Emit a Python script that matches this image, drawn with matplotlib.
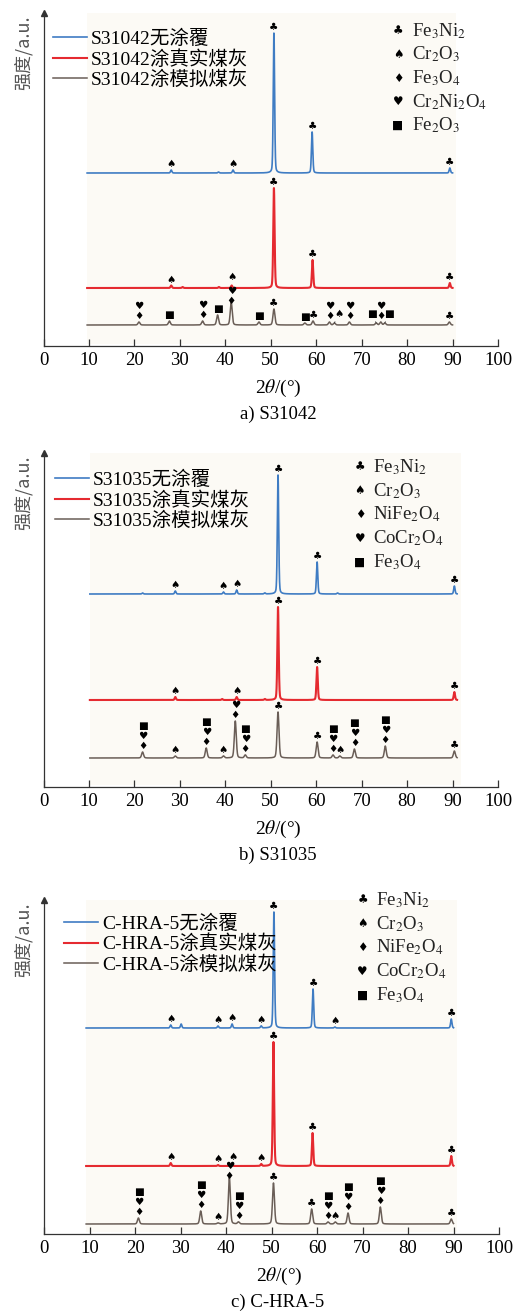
import numpy as np
import matplotlib.pyplot as plt
from matplotlib.patches import Rectangle

plt.rcParams['font.family'] = ['Liberation Serif', 'Noto Sans CJK SC']
plt.rcParams['mathtext.fontset'] = 'stix'

W, H = 521, 1315
colors = ['#3f7cc3', '#e52a30', '#6a5e57']
line_widths = [1.2, 1.5, 1.1]
peak_fwhm = [0.35, 0.35, 0.5]
x_ticks = [0, 10, 20, 30, 40, 50, 60, 70, 80, 90, 100]
symbols = ['♣', '♠', '♦', '♥', '■']

# ---------------- a) S31042 ----------------
a_caption = 'a) S31042'
a_labels = ['S31042无涂覆', 'S31042涂真实煤灰', 'S31042涂模拟煤灰']
a_phases = ['Fe$_3$Ni$_2$', 'Cr$_2$O$_3$', 'Fe$_3$O$_4$', 'Cr$_2$Ni$_2$O$_4$', 'Fe$_2$O$_3$']
a_span = (9.6, 90.0)
a_offsets = [173, 58, 21]
a_blue_pos = [28.1, 38.5, 41.7, 50.7, 59.1, 89.4]
a_blue_hgt = [3, 1, 3, 140, 41, 5]
a_red_pos = [28.1, 30.6, 38.6, 41.4, 50.7, 59.2, 89.4]
a_red_hgt = [2.5, 1, 1, 2.5, 100, 28, 5]
a_brown_pos = [21.0, 27.7, 35.0, 38.3, 41.3, 47.4, 50.7, 57.5, 59.3, 62.9, 64.0, 67.3, 73.2, 74.2, 75.1, 89.3]
a_brown_hgt = [3, 4, 4, 10, 23, 3, 16, 2, 4, 3, 2, 3, 2, 3, 2, 3]
a_blue_marks = [(28.1, '♠'), (41.7, '♠'), (50.7, '♣'), (59.1, '♣'), (89.4, '♣')]
a_red_marks = [(28.1, '♠'), (41.4, '♠', 1.5), (50.7, '♣'), (59.2, '♣'), (89.4, '♣')]
a_brown_marks = [(21.0, '♦♥'), (27.7, '■'), (35.0, '♦♥'), (38.3, '■'), (41.3, '♦♥', -3.5),
                 (47.4, '■'), (50.7, '♣'), (57.5, '■'), (59.3, '♣'), (62.9, '♦♥'),
                 (67.3, '♦♥'), (74.2, '♦♥'), (89.3, '♣')]
a_brown_leaders = [(64.0, 65.0, '♠'), (73.2, 72.2, '■'), (75.1, 76.0, '■')]

# ---------------- b) S31035 ----------------
b_caption = 'b) S31035'
b_labels = ['S31035无涂覆', 'S31035涂真实煤灰', 'S31035涂模拟煤灰']
b_phases = ['Fe$_3$Ni$_2$', 'Cr$_2$O$_3$', 'NiFe$_2$O$_4$', 'CoCr$_2$O$_4$', 'Fe$_3$O$_4$']
b_span = (10.2, 91.0)
b_offsets = [193, 87, 29]
b_blue_pos = [21.8, 29.0, 39.6, 42.5, 48.7, 51.6, 60.2, 64.7, 90.4]
b_blue_hgt = [1, 3, 2, 4, 1, 119, 32, 1, 8]
b_red_pos = [29.0, 39.3, 42.5, 48.7, 51.6, 60.2, 90.4]
b_red_hgt = [3, 1, 3, 1, 93, 33, 8]
b_brown_pos = [21.8, 29.0, 35.8, 39.6, 42.2, 44.4, 51.6, 60.2, 63.7, 65.2, 68.4, 75.2, 90.4]
b_brown_hgt = [6, 2, 10, 2, 37, 3, 46, 16, 3, 2, 9, 12, 7]
b_blue_marks = [(29.0, '♠'), (39.6, '♠'), (42.5, '♠'), (51.6, '♣'), (60.2, '♣'), (90.4, '♣')]
b_red_marks = [(29.0, '♠'), (42.5, '♠'), (51.6, '♣'), (60.2, '♣'), (90.4, '♣')]
b_brown_marks = [(21.8, '♦♥■'), (29.0, '♠'), (35.8, '♦♥■'), (39.6, '♠'), (42.2, '♦♥'),
                 (44.4, '♦♥■'), (51.6, '♣'), (60.2, '♣'), (63.6, '♦♥■'), (65.3, '♠'),
                 (68.4, '♦♥■'), (75.2, '♦♥■'), (90.4, '♣')]
b_brown_leaders = []

# ---------------- c) C-HRA-5 ----------------
c_caption = 'c) C-HRA-5'
c_labels = ['C-HRA-5无涂覆', 'C-HRA-5涂真实煤灰', 'C-HRA-5涂模拟煤灰']
c_phases = ['Fe$_3$Ni$_2$', 'Cr$_2$O$_3$', 'NiFe$_2$O$_4$', 'CoCr$_2$O$_4$', 'Fe$_3$O$_4$']
c_span = (9.2, 90.0)
c_offsets = [206, 68, 10]
c_blue_pos = [27.8, 30.1, 38.2, 41.3, 47.7, 50.5, 59.1, 63.9, 89.5]
c_blue_hgt = [3, 4, 2, 4, 2, 116, 39, 1, 9]
c_red_pos = [27.8, 38.2, 41.3, 47.7, 50.4, 59.0, 89.5]
c_red_hgt = [3, 1, 1, 2, 124, 33, 10]
c_brown_pos = [20.7, 34.4, 38.2, 40.7, 42.7, 50.4, 58.8, 62.4, 64.0, 66.8, 73.9, 89.5]
c_brown_hgt = [6, 13, 1, 47, 2, 41, 15, 2, 2, 11, 17, 5]
c_blue_marks = [(27.8, '♠'), (38.2, '♠'), (41.3, '♠'), (47.7, '♠'), (50.5, '♣'),
                (59.1, '♣'), (63.9, '♠'), (89.5, '♣')]
c_red_marks = [(27.8, '♠'), (38.2, '♠'), (41.4, '♠', 1.5), (47.7, '♠'), (50.4, '♣'),
               (59.0, '♣'), (89.5, '♣')]
c_brown_marks = [(20.7, '♦♥■'), (34.4, '♦♥■'), (38.2, '♠'), (40.7, '♦♥', -3.5), (42.7, '♦♥■'),
                 (50.4, '♣'), (58.8, '♣'), (62.4, '♦♥■'), (64.0, '♠'), (66.8, '♦♥■'),
                 (73.9, '♦♥■'), (89.5, '♣')]
c_brown_leaders = []


def pattern(x, pos, hgt, fwhm):
    y = np.zeros_like(x)
    for p, h in zip(pos, hgt):
        u = (x - p) / fwhm
        y += h * (0.75 * np.exp(-4 * np.log(2) * u ** 2) + 0.25 / (1 + 4 * u ** 2))
    return y


panels = [
    dict(caption=a_caption, labels=a_labels, phases=a_phases, span=a_span, offsets=a_offsets,
         peaks=[(a_blue_pos, a_blue_hgt), (a_red_pos, a_red_hgt), (a_brown_pos, a_brown_hgt)],
         marks=[a_blue_marks, a_red_marks, a_brown_marks], leaders=a_brown_leaders,
         box=(43.5, 498, 346, 13), leg=(0.021, 0.95), ph=(0.78, 0.946)),
    dict(caption=b_caption, labels=b_labels, phases=b_phases, span=b_span, offsets=b_offsets,
         peaks=[(b_blue_pos, b_blue_hgt), (b_red_pos, b_red_hgt), (b_brown_pos, b_brown_hgt)],
         marks=[b_blue_marks, b_red_marks, b_brown_marks], leaders=b_brown_leaders,
         box=(43.5, 498, 787, 453), leg=(0.025, 0.947), ph=(0.696, 0.958)),
    dict(caption=c_caption, labels=c_labels, phases=c_phases, span=c_span, offsets=c_offsets,
         peaks=[(c_blue_pos, c_blue_hgt), (c_red_pos, c_red_hgt), (c_brown_pos, c_brown_hgt)],
         marks=[c_blue_marks, c_red_marks, c_brown_marks], leaders=c_brown_leaders,
         box=(44.3, 499, 1234, 900), leg=(0.043, 0.957), ph=(0.70, 1.0)),
]

fig = plt.figure(figsize=(W / 100, H / 100), dpi=100)

for p in panels:
    left, right, bottom, top = p['box']
    ax = fig.add_axes([left / W, 1 - bottom / H, (right - left) / W, (bottom - top) / H])
    ax.set_xlim(0, 100)
    ax.set_ylim(0, bottom - top)
    ax.add_patch(Rectangle((p['span'][0], 2), p['span'][1] - p['span'][0] + 0.8,
                           bottom - top - 2, facecolor='#fcfaf5', edgecolor='none', zorder=0))

    x = np.linspace(p['span'][0], p['span'][1], 4000)
    handles = []
    for i, ((pos, hgt), off) in enumerate(zip(p['peaks'], p['offsets'])):
        y = off + pattern(x, pos, hgt, peak_fwhm[i])
        h, = ax.plot(x, y, color=colors[i], lw=line_widths[i], zorder=2)
        handles.append(h)
        for mark in p['marks'][i]:
            xm, syms = mark[0], mark[1]
            shift = mark[2] if len(mark) > 2 else 0
            win = np.abs(x - xm) < 0.4
            ytop = y[win].max()
            for k, s in enumerate(syms):
                ax.annotate(s, (xm, ytop), xytext=(0, 4.3 + shift + 7.3 * k),
                            textcoords='offset points', ha='center', va='center',
                            fontsize=7.5, family='DejaVu Sans', zorder=3)
        if i == 2:
            for xp, xt, s in p['leaders']:
                win = np.abs(x - xp) < 0.4
                ytop = y[win].max()
                ax.annotate(s, (xp, ytop), xytext=(xt, ytop + 9), textcoords='data',
                            ha='center', va='center', fontsize=7.5, family='DejaVu Sans',
                            arrowprops=dict(arrowstyle='-', lw=0.6, color='#333333',
                                            shrinkA=3, shrinkB=0))

    ax.legend(handles, p['labels'], loc='upper left', bbox_to_anchor=p['leg'], frameon=False,
              fontsize=14, handlelength=1.75, handletextpad=0.2, labelspacing=0.1,
              borderpad=0, borderaxespad=0)

    for k, (s, name) in enumerate(zip(symbols, p['phases'])):
        yy = p['ph'][1] - 0.071 * k
        ax.text(p['ph'][0], yy, s, transform=ax.transAxes, ha='center', va='center',
                fontsize=8.5, family='DejaVu Sans')
        ax.text(p['ph'][0] + 0.03, yy, name, transform=ax.transAxes, ha='left', va='center',
                fontsize=13.5, color='#222222')

    for side in ['top', 'right']:
        ax.spines[side].set_visible(False)
    for side in ['left', 'bottom']:
        ax.spines[side].set_color('#333333')
        ax.spines[side].set_linewidth(0.9)
    ax.plot(0, 1, marker='^', color='#333333', markersize=4, transform=ax.transAxes, clip_on=False)
    ax.set_yticks([])
    ax.set_xticks(x_ticks)
    ax.tick_params(axis='x', direction='in', length=5, width=0.9, color='#333333',
                   labelsize=13.5, pad=4)
    ax.set_xlabel('2$\\theta$/(°)', fontsize=14)
    ax.xaxis.set_label_coords(0.516, -0.095)
    ax.text(-0.045, 0.88, '强度/a.u.', transform=ax.transAxes, rotation=90, ha='center',
            va='center', fontsize=13, color='#555555', family=['Noto Sans CJK SC'])
    fig.text(278 / W, 1 - (bottom + 68) / H, p['caption'], ha='center', va='center', fontsize=13.5)

fig.savefig('out.png', dpi=100)
